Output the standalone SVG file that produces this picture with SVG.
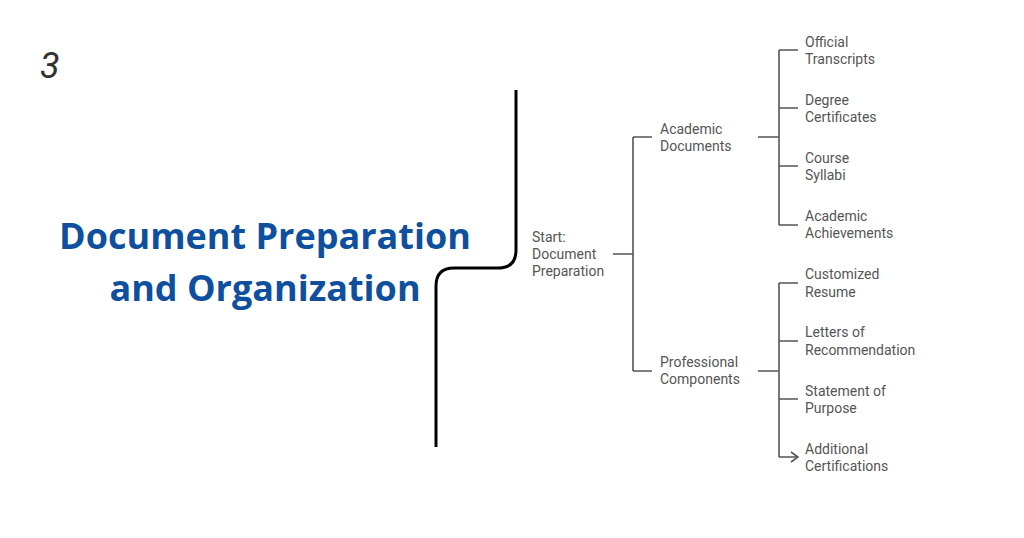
<svg xmlns="http://www.w3.org/2000/svg" width="1024" height="538" viewBox="0 0 1024 538">
<style>
.t{font-family:Roboto,"Liberation Sans",sans-serif;font-size:14px;fill:#555}
.c{fill:none;stroke:#555;stroke-width:1.6}
.h{font-family:"Open Sans","Liberation Sans",sans-serif;font-weight:bold;font-size:36px;fill:#0e4f9e;text-anchor:middle}
</style>
<defs><marker id="a" markerWidth="10" markerHeight="12" refX="8" refY="6" orient="auto" markerUnits="userSpaceOnUse"><path d="M1,1 L8,6 L1,11" fill="none" stroke="#555" stroke-width="1.6"/></marker></defs>
<rect width="1024" height="538" fill="#fff"/>
<text x="40" y="78" font-family="Roboto,'Liberation Sans',sans-serif" font-style="italic" font-size="36" fill="#333">3</text>
<g id="title"><text class="h" x="265" y="249">Document Preparation</text><text class="h" x="265" y="301">and Organization</text></g>
<path d="M516,90 V250 Q516,268 498,268 H454 Q436,268 436,286 V447" fill="none" stroke="#000" stroke-width="3"/>
<g id="connectors">
<path class="c" d="M613,254 H633 M633,137 V371 M758,137 H779 M779,50 V225 M758,371 H779 M779,283 V457"/>
<path class="c" marker-end="url(#a)" d="M633,137 H652 M633,371 H652 M779,50 H798 M779,108 H798 M779,166 H798 M779,225 H798 M779,283 H798 M779,341 H798 M779,399 H798 M779,457 H798"/>
</g>
<g id="start"><text class="t" x="532" y="242">Start:</text><text class="t" x="532" y="259">Document</text><text class="t" x="532" y="276">Preparation</text></g>
<g id="academic"><text class="t" x="660" y="134">Academic</text><text class="t" x="660" y="151">Documents</text></g>
<g id="professional"><text class="t" x="660" y="367">Professional</text><text class="t" x="660" y="384">Components</text></g>
<g id="n1"><text class="t" x="805" y="47">Official</text><text class="t" x="805" y="64">Transcripts</text></g>
<g id="n2"><text class="t" x="805" y="105">Degree</text><text class="t" x="805" y="122">Certificates</text></g>
<g id="n3"><text class="t" x="805" y="163">Course</text><text class="t" x="805" y="180">Syllabi</text></g>
<g id="n4"><text class="t" x="805" y="221">Academic</text><text class="t" x="805" y="238">Achievements</text></g>
<g id="n5"><text class="t" x="805" y="279">Customized</text><text class="t" x="805" y="297">Resume</text></g>
<g id="n6"><text class="t" x="805" y="337">Letters of</text><text class="t" x="805" y="355">Recommendation</text></g>
<g id="n7"><text class="t" x="805" y="396">Statement of</text><text class="t" x="805" y="413">Purpose</text></g>
<g id="n8"><text class="t" x="805" y="454">Additional</text><text class="t" x="805" y="471">Certifications</text></g>
</svg>
